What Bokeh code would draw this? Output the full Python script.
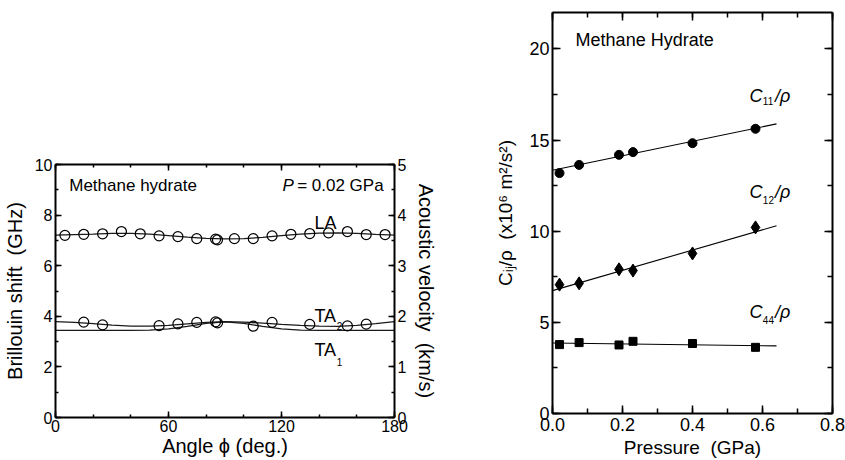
from bokeh.plotting import figure
from bokeh.models import (Range1d, LinearAxis, SingleIntervalTicker, PrintfTickFormatter,
                          CustomLabelingPolicy)
from bokeh.embed import file_html
from bokeh.resources import INLINE
from bokeh.core.properties import value

FONT = "Liberation Sans"

# ---------------- data: left panel (Brillouin shift vs angle) ----------------
la_phi = [5, 15, 25, 35, 45, 55, 65, 75, 85, 86, 95, 105, 115, 125, 135, 145, 155, 165, 175]
la_shift = [7.20, 7.24, 7.26, 7.35, 7.26, 7.18, 7.15, 7.07, 7.05, 7.02, 7.07, 7.07, 7.18, 7.24,
            7.27, 7.30, 7.35, 7.23, 7.23]

ta_phi = [15, 25, 55, 65, 75, 85, 86, 105, 115, 135, 155, 165]
ta_shift = [3.77, 3.66, 3.63, 3.70, 3.76, 3.78, 3.74, 3.61, 3.76, 3.68, 3.62, 3.69]

curve_phi = [0, 10, 20, 30, 40, 50, 60, 70, 80, 90, 100, 110, 120, 130, 140, 150, 160, 170, 180]
la_curve = [7.21, 7.23, 7.25, 7.28, 7.28, 7.25, 7.19, 7.13, 7.08, 7.06, 7.07, 7.12, 7.19, 7.25,
            7.29, 7.30, 7.28, 7.24, 7.21]
ta2_curve = [3.79, 3.76, 3.71, 3.65, 3.61, 3.61, 3.64, 3.70, 3.76, 3.79, 3.77, 3.73, 3.68, 3.64,
             3.61, 3.60, 3.64, 3.71, 3.79]
ta1_curve = [3.44, 3.44, 3.44, 3.44, 3.44, 3.45, 3.50, 3.60, 3.72, 3.78, 3.72, 3.60, 3.50, 3.45,
             3.44, 3.44, 3.44, 3.44, 3.44]

# ---------------- data: right panel (Cij/rho vs pressure) ----------------
pressure = [0.02, 0.076, 0.19, 0.23, 0.40, 0.58]
c11 = [13.19, 13.64, 14.19, 14.34, 14.83, 15.62]
c12 = [7.07, 7.14, 7.91, 7.84, 8.78, 10.21]
c44 = [3.78, 3.89, 3.76, 3.96, 3.84, 3.63]

fit_p = [0.0, 0.64]
fit_c11 = [13.35, 15.89]
fit_c12 = [6.74, 10.30]
fit_c44 = [3.87, 3.71]


def style_axis(ax, tick_px, major_in, minor_in, show_labels=True):
    ax.axis_line_width = 2
    ax.axis_line_color = "black"
    ax.major_tick_in = major_in
    ax.major_tick_out = 0
    ax.minor_tick_in = minor_in
    ax.minor_tick_out = 0
    ax.major_tick_line_width = 1.5
    ax.minor_tick_line_width = 1.5
    ax.major_label_text_font = FONT
    ax.major_label_text_color = "black"
    ax.axis_label_text_font = FONT
    ax.axis_label_text_font_style = "normal"
    ax.axis_label_text_color = "black"
    if show_labels:
        ax.major_label_text_font_size = f"{tick_px}px"
        ax.major_label_standoff = 3
    else:
        ax.major_label_text_font_size = "1px"
        ax.major_label_standoff = 0
        ax.major_label_policy = CustomLabelingPolicy(code="return []")


def txt(p, x, y, s, size, style="normal", align="left"):
    p.text(x=[x], y=[y], text=[s], text_font=value(FONT), text_font_size=value(f"{size}px"),
           text_font_style=style, text_align=align, text_baseline="middle", text_color="black")


# ================= Left figure =================
p1 = figure(width=440, height=460, x_range=Range1d(0, 180), y_range=Range1d(0, 10),
            output_backend="svg", toolbar_location=None,
            min_border_left=53, min_border_right=44, min_border_top=164, min_border_bottom=43)
p1.extra_y_ranges = {"vel": Range1d(0, 5)}
p1.outline_line_color = None
p1.grid.visible = False
p1.background_fill_color = "white"
p1.border_fill_color = "white"

p1.add_layout(LinearAxis(y_range_name="vel"), "right")
p1.add_layout(LinearAxis(), "above")

xt1 = SingleIntervalTicker(interval=60, num_minor_ticks=3)
for ax in p1.xaxis:
    ax.ticker = xt1
p1.left[0].ticker = SingleIntervalTicker(interval=2, num_minor_ticks=2)
p1.right[0].ticker = SingleIntervalTicker(interval=1, num_minor_ticks=2)

style_axis(p1.below[0], 16, 6, 3)
p1.below[0].axis_label = "Angle \u03d5 (deg.)"
p1.below[0].axis_label_text_font_size = "20px"
p1.below[0].axis_label_standoff = 0
p1.below[0].major_label_standoff = 2
style_axis(p1.above[0], 16, 6, 3, show_labels=False)
style_axis(p1.left[0], 16, 6, 3)
p1.left[0].axis_label = "Brillouin shift\u00a0 (GHz)"
p1.left[0].axis_label_text_font_size = "20px"
p1.left[0].axis_label_standoff = 6
style_axis(p1.right[0], 16, 6, 3)
p1.right[0].axis_label = "Acoustic velocity\u00a0 (km/s)"
p1.right[0].axis_label_text_font_size = "20px"
p1.right[0].axis_label_standoff = 6

# curves
p1.line(curve_phi, la_curve, line_color="#1a1a1a", line_width=1.3)
p1.line(curve_phi, ta2_curve, line_color="#1a1a1a", line_width=1.3)
p1.line(curve_phi, ta1_curve, line_color="#1a1a1a", line_width=1.3)
# data points
p1.scatter(la_phi, la_shift, marker="circle", size=10, fill_color="white", fill_alpha=0.0,
           line_color="black", line_width=1.2)
p1.scatter(ta_phi, ta_shift, marker="circle", size=10, fill_color="white", fill_alpha=0.0,
           line_color="black", line_width=1.2)

# annotations
txt(p1, 7.3, 9.17, "Methane hydrate", 17)
txt(p1, 120.5, 9.17, "P", 17, style="italic")
txt(p1, 128.3, 9.17, "= 0.02 GPa", 17)
txt(p1, 137.5, 7.67, "LA", 18)
txt(p1, 137.5, 4.03, "TA", 18)
txt(p1, 149.3, 3.60, "2", 10)
txt(p1, 137.5, 2.68, "TA", 18)
txt(p1, 149.3, 2.19, "1", 10)

# ================= Right figure =================
p2 = figure(width=405, height=460, x_range=Range1d(0, 0.8), y_range=Range1d(0, 22),
            output_backend="svg", toolbar_location=None,
            min_border_left=112, min_border_right=13, min_border_top=12, min_border_bottom=47)
p2.styles = {"position": "absolute", "left": "440px", "top": "0px"}
p2.outline_line_color = None
p2.grid.visible = False
p2.background_fill_color = "white"
p2.border_fill_color = "white"

p2.add_layout(LinearAxis(), "right")
p2.add_layout(LinearAxis(), "above")

xt2 = SingleIntervalTicker(interval=0.2, num_minor_ticks=2)
yt2 = SingleIntervalTicker(interval=5, num_minor_ticks=2)
for ax in p2.xaxis:
    ax.ticker = xt2
for ax in p2.yaxis:
    ax.ticker = yt2

style_axis(p2.below[0], 18, 8, 5)
p2.below[0].formatter = PrintfTickFormatter(format="%.1f")
p2.below[0].axis_label = "Pressure\u00a0 (GPa)"
p2.below[0].axis_label_text_font_size = "19px"
p2.below[0].axis_label_standoff = 3
p2.below[0].major_label_standoff = 4
style_axis(p2.above[0], 18, 8, 5, show_labels=False)
style_axis(p2.left[0], 18, 8, 5)
p2.left[0].axis_label = "C\u1d62\u2c7c/\u03c1\u00a0 (x10\u2076 m\u00b2/s\u00b2)"
p2.left[0].axis_label_text_font_size = "19px"
p2.left[0].axis_label_standoff = 10
style_axis(p2.right[0], 18, 8, 5, show_labels=False)

# fit lines
p2.line(fit_p, fit_c11, line_color="black", line_width=1.1)
p2.line(fit_p, fit_c12, line_color="black", line_width=1.1)
p2.line(fit_p, fit_c44, line_color="black", line_width=1.1)
# data
p2.scatter(pressure, c11, marker="circle", size=9, fill_color="black", line_color="black")
p2.scatter(pressure, c12, marker="diamond", size=13, fill_color="black", line_color="black")
p2.scatter(pressure, c44, marker="square", size=8, fill_color="black", line_color="black")

# annotations
txt(p2, 0.066, 20.5, "Methane Hydrate", 18)
for (yc, ys, sub) in [(17.42, 17.12, "11"), (12.14, 11.70, "12"), (5.55, 5.14, "44")]:
    txt(p2, 0.563, yc, "C", 18, style="italic")
    txt(p2, 0.601, ys, sub, 10)
    txt(p2, 0.636, yc, "/\u03c1", 18, style="italic")

open("out.html", "w").write(file_html([p1, p2], INLINE))
